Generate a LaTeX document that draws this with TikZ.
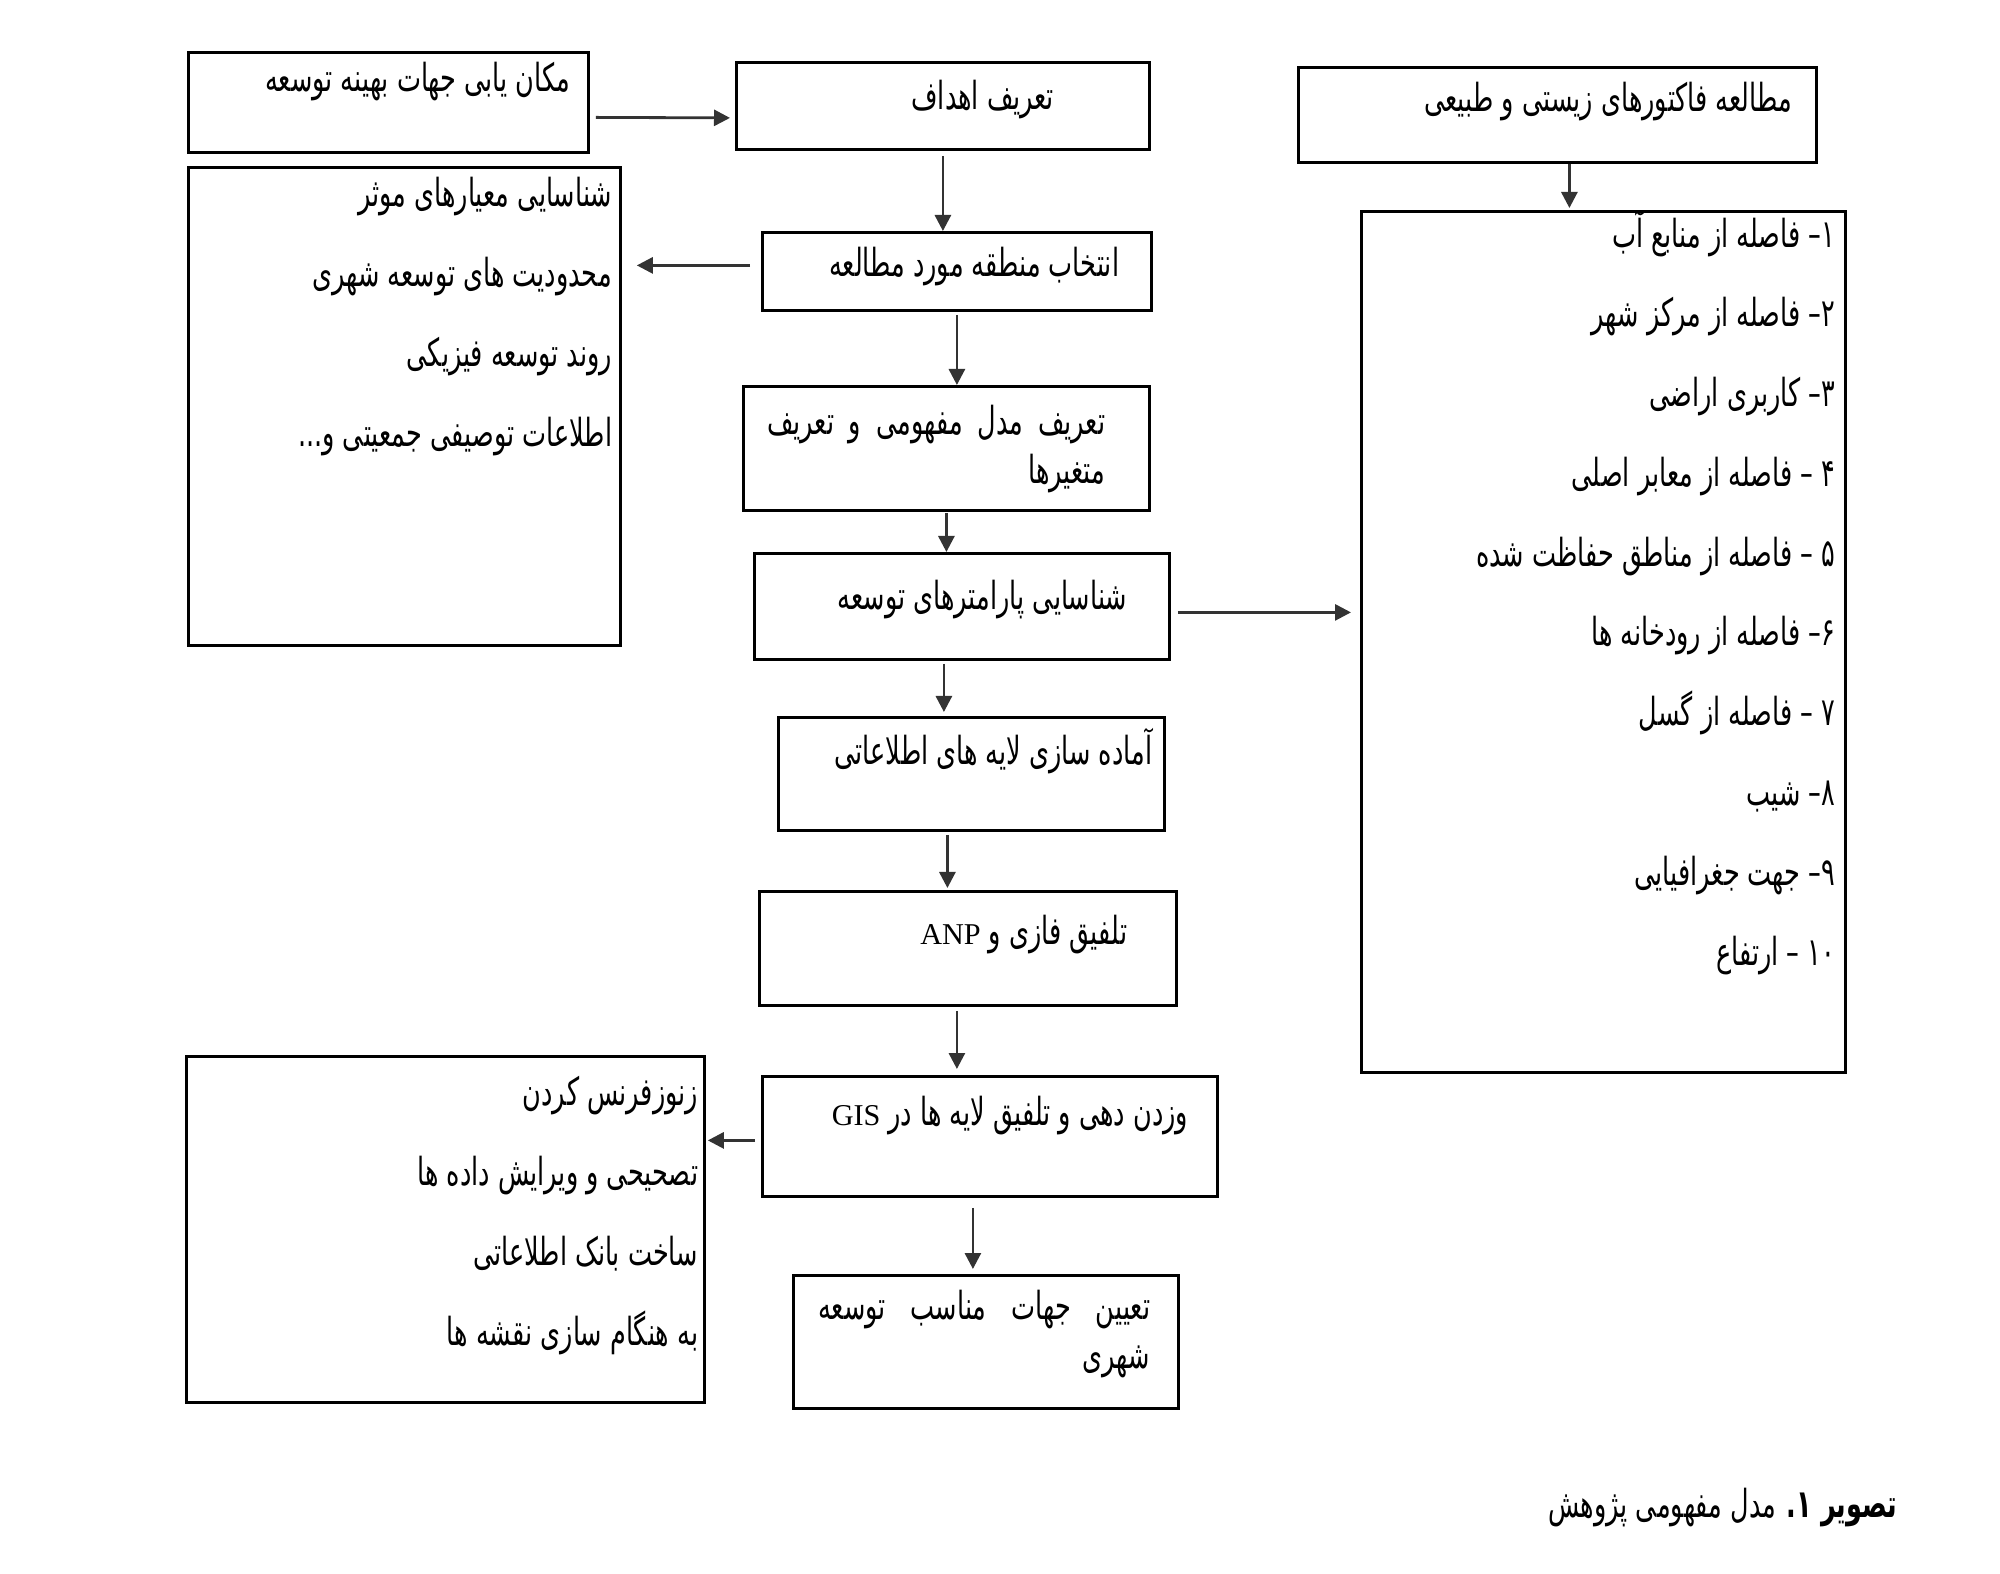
\documentclass[tikz,border=0pt]{standalone}
\usepackage{fontspec}
\setmainfont{DejaVu Sans}
\newfontfamily\farsifont[Script=Arabic,FakeStretch=0.66]{DejaVu Sans}
\newfontfamily\latinfont{Liberation Serif}
\TeXXeTstate=1
\usetikzlibrary{arrows.meta,positioning,calc}
\newcommand{\lead}{\rule{0pt}{0.35cm}}
\newcommand{\latinword}[1]{{\latinfont\fontsize{8.6}{11}\selectfont #1}}
\tikzset{
  stage/.style={draw,line width=0.8pt,inner sep=0pt,anchor=north west},
  txt/.style={inner sep=0pt,anchor=north east,align=right,
    font=\farsifont\fontsize{11}{14pt}\selectfont},
  listtxt/.style={txt,font=\farsifont\fontsize{11}{22.7pt}\selectfont},
  flowarrow/.style={-{Triangle[length=1.6mm,width=1.6mm]},line width=0.8pt,draw=black!80}
}
\begin{document}
\begin{tikzpicture}
\useasboundingbox (0,0) rectangle (20,-15.74);
% top row
\node[stage,minimum width=4.00cm,minimum height=1.00cm,
  label={[txt,xshift=-0.19cm,yshift=-0.05cm]north east:\lead\beginR مکان یابی جهات بهینه توسعه\endR}]
  (site) at (1.87,-0.51) {};
\node[stage,minimum width=4.13cm,minimum height=0.87cm,
  label={[txt,xshift=-0.96cm,yshift=-0.13cm]north east:\lead\beginR تعریف اهداف\endR}]
  (goals) at (7.35,-0.61) {};
\node[stage,minimum width=5.18cm,minimum height=0.95cm,
  label={[txt,xshift=-0.25cm,yshift=-0.10cm]north east:\lead\beginR مطالعه فاکتورهای زیستی و طبیعی\endR}]
  (factors) at (12.97,-0.66) {};
% side lists
\node[stage,minimum width=4.32cm,minimum height=4.78cm,
  label={[listtxt,xshift=-0.09cm,yshift=-0.05cm]north east:{\lead\beginR شناسایی معیارهای موثر\endR\\
    \beginR محدودیت های توسعه شهری\endR\\
    \beginR روند توسعه فیزیکی\endR\\
    \beginR اطلاعات توصیفی جمعیتی و...\endR}}]
  (criteria) at (1.87,-1.66) {};
\node[stage,minimum width=4.84cm,minimum height=8.61cm,
  label={[listtxt,xshift=-0.11cm,yshift=0.00cm]north east:{\lead\beginR ۱– فاصله از منابع آب\endR\\
    \beginR ۲– فاصله از مرکز شهر\endR\\
    \beginR ۳– کاربری اراضی\endR\\
    \beginR ۴ – فاصله از معابر اصلی\endR\\
    \beginR ۵ – فاصله از مناطق حفاظت شده\endR\\
    \beginR ۶– فاصله از رودخانه ها\endR\\
    \beginR ۷ – فاصله از گسل\endR\\
    \beginR ۸– شیب\endR\\
    \beginR ۹– جهت جغرافیایی\endR\\
    \beginR\beginL ۱۰\endL{} – ارتفاع\endR}}]
  (params) at (13.60,-2.10) {};
\node[stage,minimum width=5.18cm,minimum height=3.46cm,
  label={[listtxt,xshift=-0.07cm,yshift=-0.15cm]north east:{\lead\beginR زنوزفرنس کردن\endR\\
    \beginR تصحیحی و ویرایش داده ها\endR\\
    \beginR ساخت بانک اطلاعاتی\endR\\
    \beginR به هنگام سازی نقشه ها\endR}}]
  (gisprep) at (1.85,-10.55) {};
% main column
\node[stage,minimum width=3.89cm,minimum height=0.78cm,
  label={[txt,xshift=-0.33cm,yshift=-0.10cm]north east:\lead\beginR انتخاب منطقه مورد مطالعه\endR}]
  (area) at (7.61,-2.31) {};
\node[stage,minimum width=4.06cm,minimum height=1.24cm,
  label={[txt,xshift=-0.45cm,yshift=-0.14cm]north east:{\hbox to 3.38cm{\lead\beginR تعریف \hfill مدل \hfill مفهومی \hfill و \hfill تعریف\endR}\\
    \beginR متغیرها\endR}}]
  (model) at (7.42,-3.85) {};
\node[stage,minimum width=4.15cm,minimum height=1.06cm,
  label={[txt,xshift=-0.43cm,yshift=-0.22cm]north east:\lead\beginR شناسایی پارامترهای توسعه\endR}]
  (ident) at (7.53,-5.52) {};
\node[stage,minimum width=3.86cm,minimum height=1.13cm,
  label={[txt,xshift=-0.13cm,yshift=-0.11cm]north east:\lead\beginR آماده سازی لایه های اطلاعاتی\endR}]
  (layers) at (7.77,-7.16) {};
\node[stage,minimum width=4.17cm,minimum height=1.14cm,
  label={[txt,xshift=-0.50cm,yshift=-0.19cm]north east:\lead\beginR تلفیق فازی و \beginL\latinword{ANP}\endL\endR}]
  (fuzzy) at (7.58,-8.90) {};
\node[stage,minimum width=4.55cm,minimum height=1.20cm,
  label={[txt,xshift=-0.30cm,yshift=-0.15cm]north east:\lead\beginR وزدن دهی و تلفیق لایه ها در \beginL\latinword{GIS}\endL\endR}]
  (weight) at (7.61,-10.75) {};
\node[stage,minimum width=3.85cm,minimum height=1.33cm,
  label={[txt,xshift=-0.29cm,yshift=-0.10cm]north east:{\hbox to 3.32cm{\lead\beginR تعیین \hfill جهات \hfill مناسب \hfill توسعه\endR}\\
    \beginR شهری\endR}}]
  (result) at (7.92,-12.74) {};
% caption
\node[txt,anchor=base east] (caption) at (18.98,-15.17) {\beginR{\bfseries تصویر ۱.} مدل مفهومی پژوهش\endR};
% arrows
\draw[flowarrow] ([shift={(0.06,-0.15)}]site.east) -- ([shift={(-0.05,-0.12)}]goals.west);
\draw[flowarrow,shorten <=0.05cm] (goals.south) -- (goals.south |- area.north);
\draw[flowarrow,shorten <=0.03cm] (area.south) -- (area.south |- model.north);
\draw[flowarrow,shorten <=0.01cm] (model.south) -- (model.south |- ident.north);
\draw[flowarrow,shorten <=0.03cm,shorten >=0.04cm] ([xshift=-0.18cm]ident.south) -- ([xshift=-0.18cm]ident.south |- layers.north);
\draw[flowarrow,shorten <=0.03cm,shorten >=0.02cm] ([xshift=-0.24cm]layers.south) -- ([xshift=-0.24cm]layers.south |- fuzzy.north);
\draw[flowarrow,shorten <=0.04cm,shorten >=0.06cm] ([xshift=-0.11cm]fuzzy.south) -- ([xshift=-0.11cm]fuzzy.south |- weight.north);
\draw[flowarrow,shorten <=0.10cm,shorten >=0.05cm] ([xshift=-0.17cm]weight.south) -- ([xshift=-0.17cm]weight.south |- result.north);
\draw[flowarrow,shorten <=0.11cm,shorten >=0.15cm] ([yshift=0.06cm]area.west) -- ([yshift=0.06cm]area.west -| criteria.east);
\draw[flowarrow,shorten <=0.07cm,shorten >=0.09cm] ([yshift=-0.06cm]ident.east) -- ([yshift=-0.06cm]ident.east -| params.west);
\draw[flowarrow,shorten >=0.02cm] ([xshift=0.12cm]factors.south) -- ([xshift=0.12cm]factors.south |- params.north);
\draw[flowarrow,shorten <=0.06cm,shorten >=0.02cm] ([yshift=-0.04cm]weight.west) -- ([yshift=-0.04cm]weight.west -| gisprep.east);
\end{tikzpicture}
\end{document}
